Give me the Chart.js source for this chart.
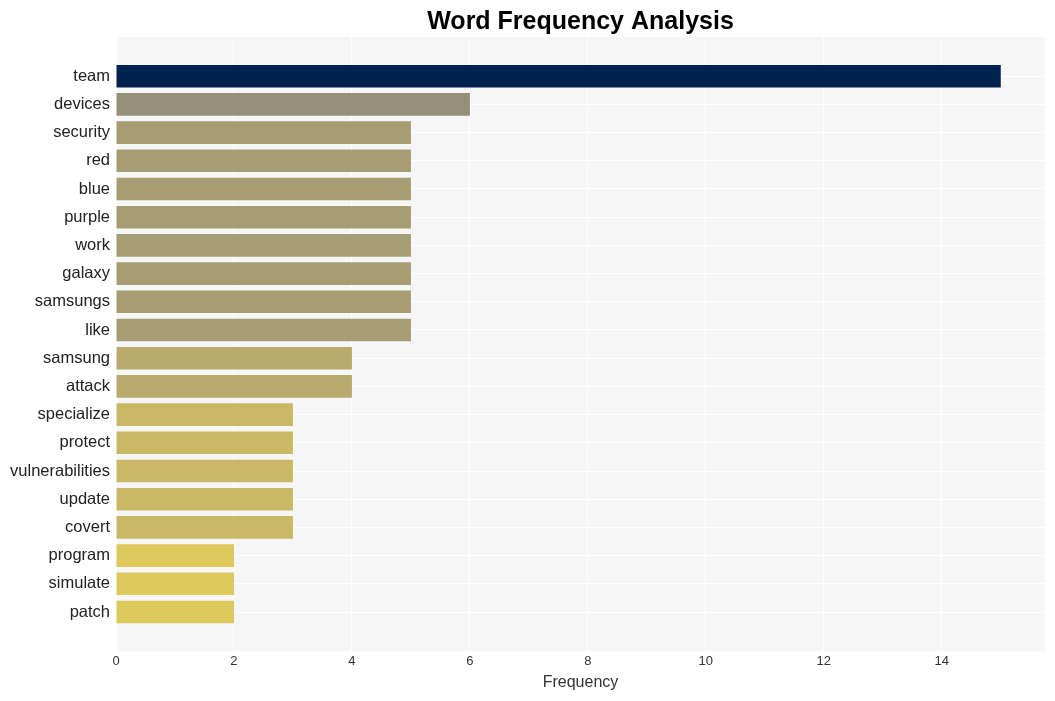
<!DOCTYPE html>
<html>
<head>
  <title>Word Frequency Analysis</title>
  <script src="https://cdn.jsdelivr.net/npm/chart.js"></script>
  <style>
    html, body { margin: 0; padding: 0; background: #fff; }
    #wrap { width: 1055px; height: 701px; }
  </style>
</head>
<body>
  <div id="wrap"><canvas id="chart"></canvas></div>

  <script>
    // words and counts, top to bottom
    const words = ['team', 'devices', 'security', 'red', 'blue', 'purple', 'work', 'galaxy',
      'samsungs', 'like', 'samsung', 'attack', 'specialize', 'protect', 'vulnerabilities',
      'update', 'covert', 'program', 'simulate', 'patch'];
    const counts = [15, 6, 5, 5, 5, 5, 5, 5, 5, 5, 4, 4, 3, 3, 3, 3, 3, 2, 2, 2];
    const barColors = ['#00224e', '#958f78', '#a69d75', '#a69d75', '#a69d75', '#a69d75', '#a69d75',
      '#a69d75', '#a69d75', '#a69d75', '#b9aa6e', '#b9aa6e', '#c9b865', '#c9b865', '#c9b865',
      '#c9b865', '#c9b865', '#dcc85b', '#dcc85b', '#dcc85b'];
    const xTicks = [0, 2, 4, 6, 8, 10, 12, 14];

    // grey plot background
    const plotBg = {
      id: 'plotBg',
      beforeDraw(chart) {
        const a = chart.chartArea;
        const c = chart.ctx;
        c.save();
        c.fillStyle = '#f6f6f6';
        c.fillRect(a.left, a.top, a.right - a.left, a.bottom - a.top);
        c.restore();
      }
    };

    const ctx = document.getElementById('chart').getContext('2d');
    const chart = new Chart(ctx, {
      type: 'bar',
      data: {
        datasets: [{
          data: counts.map((v, i) => ({ x: v, y: i })),
          backgroundColor: barColors,
          barPercentage: 0.8,
          categoryPercentage: 1.0
        }]
      },
      options: {
        indexAxis: 'y',
        responsive: true,
        maintainAspectRatio: false,
        animation: false,
        layout: { padding: { left: 0, right: 10, top: 0, bottom: 9 } },
        plugins: {
          legend: { display: false },
          tooltip: { enabled: false },
          title: {
            display: true,
            fullSize: false,
            text: 'Word Frequency Analysis',
            color: '#000',
            font: { family: 'Liberation Sans, Arial, sans-serif', size: 25, weight: 'bold' },
            padding: { top: 7, bottom: 0 }
          }
        },
        scales: {
          x: {
            type: 'linear',
            min: 0,
            max: 15.75,
            afterBuildTicks: scale => { scale.ticks = xTicks.map(v => ({ value: v })); },
            grid: { color: '#ffffff', lineWidth: 1, drawTicks: false },
            border: { display: false },
            ticks: {
              color: '#333',
              padding: 2,
              font: { family: 'Liberation Sans, Arial, sans-serif', size: 13 }
            },
            title: {
              display: true,
              text: 'Frequency',
              color: '#333',
              padding: { top: 2, bottom: 0 },
              font: { family: 'Liberation Sans, Arial, sans-serif', size: 16 }
            }
          },
          y: {
            type: 'linear',
            reverse: true,
            offset: false,
            min: -1.39,
            max: 20.39,
            afterBuildTicks: scale => { scale.ticks = words.map((w, i) => ({ value: i })); },
            afterFit: scale => { scale.width = 116; },
            grid: { color: '#ffffff', lineWidth: 1, drawTicks: false, offset: false },
            border: { display: false },
            ticks: {
              color: '#222',
              padding: 6,
              autoSkip: false,
              callback: v => words[v],
              font: { family: 'Liberation Sans, Arial, sans-serif', size: 16.5 }
            }
          }
        }
      },
      plugins: [plotBg]
    });
  </script>
</body>
</html>
